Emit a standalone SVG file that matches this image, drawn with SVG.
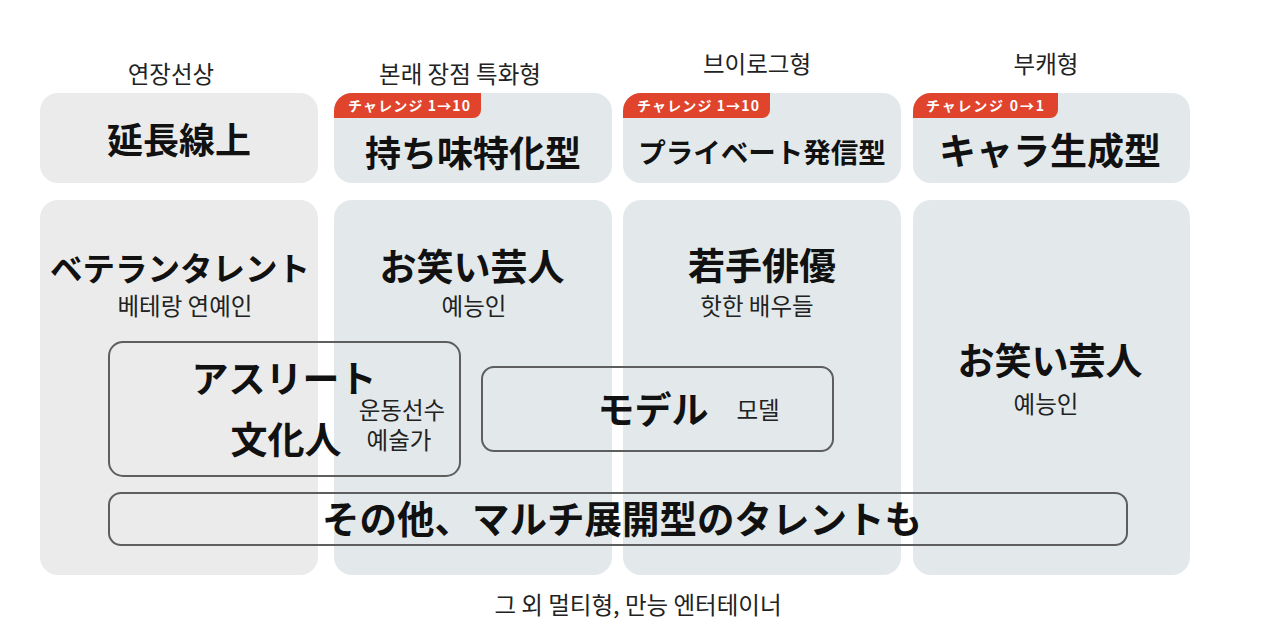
<svg xmlns="http://www.w3.org/2000/svg" width="1280" height="637" viewBox="0 0 1280 637">
<style>
.hg{fill:#ebebeb}
.hb{fill:#e3e9eb}
.badge{fill:#e0442c}
.bt{font-family:"Noto Sans CJK JP","Noto Sans",sans-serif;font-weight:bold;font-size:14px;fill:#fff}
.jp{font-family:"Noto Sans CJK JP",sans-serif;font-weight:bold;fill:#111;text-anchor:middle}
.kr{font-family:"Noto Sans CJK KR",sans-serif;font-weight:400;font-size:23.5px;fill:#222;text-anchor:middle}
.frame{fill:none;stroke:#5e5e5e;stroke-width:2}
</style>
<rect width="1280" height="637" fill="#fff"/>

<g id="col1-header">
<text class="kr" x="171" y="83">연장선상</text>
<rect class="hg" x="40" y="93" width="278" height="90" rx="18"/>
<text class="jp" x="179" y="154" font-size="36">延長線上</text>
</g>
<g id="col2-header">
<text class="kr" x="460" y="83">본래 장점 특화형</text>
<rect class="hb" x="334" y="93" width="278" height="90" rx="18"/>
<path class="badge" d="M334,118 L334,111 A18,18 0 0 1 352,93 L481,93 L481,110 A8,8 0 0 1 473,118 Z"/>
<text class="bt" x="348" y="111" textLength="122" lengthAdjust="spacing">チャレンジ 1→10</text>
<text class="jp" x="473" y="167" font-size="36">持ち味特化型</text>
</g>
<g id="col3-header">
<text class="kr" x="757" y="73">브이로그형</text>
<rect class="hb" x="623" y="93" width="278" height="90" rx="18"/>
<path class="badge" d="M623,118 L623,111 A18,18 0 0 1 641,93 L770,93 L770,110 A8,8 0 0 1 762,118 Z"/>
<text class="bt" x="637" y="111" textLength="122" lengthAdjust="spacing">チャレンジ 1→10</text>
<text class="jp" x="762" y="163" font-size="27.5">プライベート発信型</text>
</g>
<g id="col4-header">
<text class="kr" x="1046" y="73">부캐형</text>
<rect class="hb" x="913" y="93" width="277" height="90" rx="18"/>
<path class="badge" d="M913,118 L913,111 A18,18 0 0 1 931,93 L1058,93 L1058,110 A8,8 0 0 1 1050,118 Z"/>
<text class="bt" x="926" y="111" textLength="118" lengthAdjust="spacing">チャレンジ 0→1</text>
<text class="jp" x="1050" y="165" font-size="37">キャラ生成型</text>
</g>

<g id="col1-body">
<rect class="hg" x="40" y="200" width="278" height="375" rx="18"/>
</g>
<g id="col2-body">
<rect class="hb" x="334" y="200" width="278" height="375" rx="18"/>
</g>
<g id="col3-body">
<rect class="hb" x="623" y="200" width="278" height="375" rx="18"/>
</g>
<g id="col4-body">
<rect class="hb" x="913" y="200" width="277" height="375" rx="18"/>
</g>

<g id="veteran">
<text class="jp" x="180" y="281" font-size="32.5">ベテランタレント</text>
<text class="kr" x="185" y="315">베테랑 연예인</text>
</g>
<g id="owarai-2">
<text class="jp" x="472" y="281" font-size="37">お笑い芸人</text>
<text class="kr" x="474" y="315">예능인</text>
</g>
<g id="young-actor">
<text class="jp" x="762" y="280" font-size="37">若手俳優</text>
<text class="kr" x="757" y="315">핫한 배우들</text>
</g>
<g id="owarai-4">
<text class="jp" x="1050" y="375" font-size="37">お笑い芸人</text>
<text class="kr" x="1046" y="413">예능인</text>
</g>

<g id="athlete">
<rect class="frame" x="109" y="342" width="351" height="134" rx="14"/>
<text class="jp" x="284" y="393" font-size="37">アスリート</text>
<text class="jp" x="286" y="454" font-size="37">文化人</text>
<text class="kr" x="402" y="419">운동선수</text>
<text class="kr" x="399" y="449">예술가</text>
</g>
<g id="model">
<rect class="frame" x="482" y="367" width="351" height="84" rx="12"/>
<text class="jp" x="653" y="424" font-size="37">モデル</text>
<text class="kr" x="758" y="419">모델</text>
</g>
<g id="multi">
<rect class="frame" x="109" y="493" width="1018" height="52" rx="12"/>
<text class="jp" x="622" y="533" font-size="37.5">その他、マルチ展開型のタレントも</text>
</g>
<g id="footer">
<text class="kr" x="638" y="614">그 외 멀티형, 만능 엔터테이너</text>
</g>
<g id="connectors"/>
</svg>
